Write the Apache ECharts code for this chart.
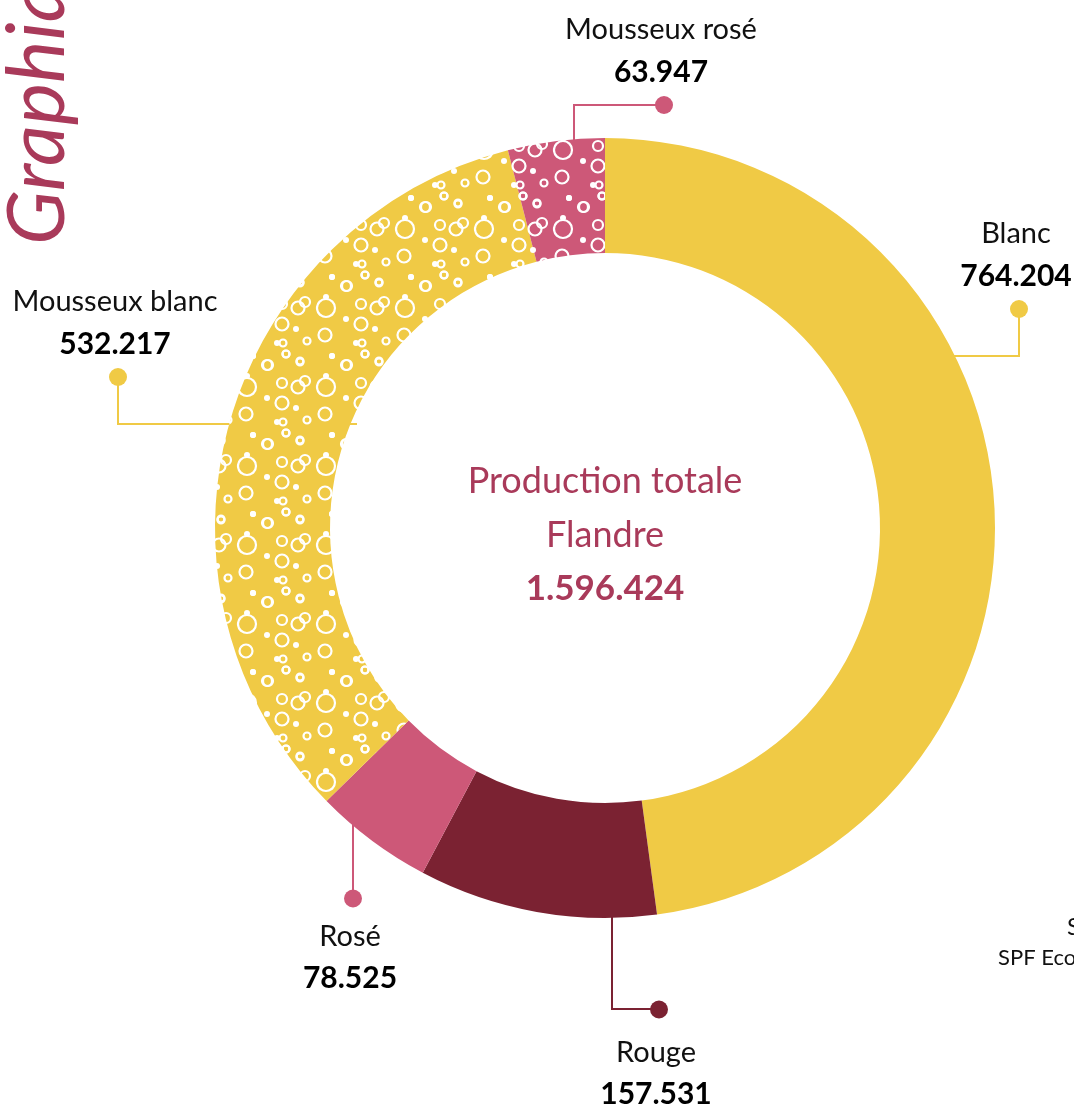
<!DOCTYPE html>
<html>
<head>
<meta charset="utf-8">
<script src="https://cdn.jsdelivr.net/npm/echarts@6/dist/echarts.min.js"></script>
<style>
html, body { margin: 0; padding: 0; background: #fff; }
#main { width: 1074px; height: 1105px; }
</style>
</head>
<body>
<div id="main"></div>
<script>
// données
var categories = ['Blanc', 'Rouge', 'Rosé', 'Mousseux blanc', 'Mousseux rosé'];
var values = [764204, 157531, 78525, 532217, 63947];
var centerLines = ['Production totale', 'Flandre'];
var titleText = 'Graphique';
var sourceLines = ['Source :', 'SPF Economie'];

// couleurs
var YELLOW = '#F0CA45', PINK = '#CD5878', WINE = '#7B2232', ACCENT = '#A93A5A';
var CX = 605, CY = 528;

// bulles du motif (tuile 79x79) : x, y, rayon, plein
var bubbleTile = [
  [0, 0, 9, 0], [0, -11, 3, 1], [20, -22, 5, 0], [39, -33, 3.5, 0], [53, -25, 3.5, 0],
  [6, -31, 3, 1], [35, -4, 5, 0], [51, 0, 6.5, 0], [58, -6, 5, 0], [20, 11, 3, 1],
  [35, 16, 6.5, 0], [49, 21, 3, 1], [-1, 27, 6.5, 0], [60, 33, 3.5, 0], [30, 35, 3, 1],
  [36, 35, 3.5, 0], [39, 46, 3.5, 0], [6, 48, 3, 1], [53, 53, 3.5, 0], [21, 57, 5, 0]
];

// traits de rappel (décalages par rapport au centre), gap = interligne de la pastille
var leaders = [
  { start: [249, -172], end: [414, -219], bend: 'h', above: true, gap: 24 },
  { start: [7, 352], end: [54, 481], bend: 'v', above: false, gap: 44 },
  { start: [-252, 277], end: [-252, 370], bend: 'v', above: false, gap: 34 },
  { start: [-248, -104], end: [-487, -151], bend: 'h', above: true, gap: 24 },
  { start: [-31, -328], end: [59, -423], bend: 'v', above: true, gap: 24 }
];

function fmt(n) {
  return String(n).replace(/\B(?=(\d{3})+(?!\d))/g, '.');
}

function bubbles(bg) {
  var T = 79, sx = 10, sy = 71;
  var c = document.createElement('canvas');
  c.width = T; c.height = T;
  var ctx = c.getContext('2d');
  ctx.fillStyle = bg;
  ctx.fillRect(0, 0, T, T);
  ctx.strokeStyle = '#fff';
  ctx.fillStyle = '#fff';
  ctx.lineWidth = 2.2;
  bubbleTile.forEach(function (b) {
    var bx = (((b[0] + sx) % T) + T) % T, by = (((b[1] + sy) % T) + T) % T;
    for (var ox = -T; ox <= T; ox += T) {
      for (var oy = -T; oy <= T; oy += T) {
        ctx.beginPath();
        ctx.arc(bx + ox, by + oy, b[2], 0, Math.PI * 2);
        if (b[3]) ctx.fill(); else ctx.stroke();
      }
    }
  });
  return c;
}

var fills = [YELLOW, WINE, PINK, { image: bubbles(YELLOW), repeat: 'repeat' }, { image: bubbles(PINK), repeat: 'repeat' }];
var lineColors = [YELLOW, WINE, PINK, YELLOW, PINK];

var total = values.reduce(function (a, b) { return a + b; }, 0);

var seriesData = categories.map(function (name, i) {
  return {
    name: name,
    value: values[i],
    itemStyle: { color: fills[i] },
    labelLine: { lineStyle: { color: lineColors[i], width: 2 } }
  };
});

var labelRich = {
  n: { fontFamily: 'Lato', fontSize: 29, color: '#111', lineHeight: 42, align: 'center', padding: [0, 6, 0, 0] },
  v: { fontFamily: 'Lato', fontSize: 30, fontWeight: 'bold', color: '#000', lineHeight: 42, align: 'center', padding: [0, 6, 0, 0] }
};
leaders.forEach(function (L, i) {
  labelRich['d' + i] = {
    width: 18, height: 18, borderRadius: 9, backgroundColor: lineColors[i],
    lineHeight: L.gap, align: 'center'
  };
});

var chart = echarts.init(document.getElementById('main'));

var option = {
  animation: false,
  graphic: [
    {
      type: 'text', x: 38, y: 245, rotation: Math.PI / 2,
      style: {
        text: titleText, fill: ACCENT, fontFamily: 'Lato', fontStyle: 'italic',
        fontWeight: 'normal', fontSize: 80, align: 'left', verticalAlign: 'middle'
      }
    },
    {
      type: 'text', x: CX, y: 535,
      style: {
        text: '{a|' + centerLines[0] + '}\n{a|' + centerLines[1] + '}\n{b|' + fmt(total) + '}',
        align: 'center', verticalAlign: 'middle',
        rich: {
          a: { fontFamily: 'Lato', fontSize: 36, fill: ACCENT, lineHeight: 54, align: 'center' },
          b: { fontFamily: 'Lato', fontSize: 35, fontWeight: 'bold', fill: ACCENT, lineHeight: 54, align: 'center' }
        }
      }
    },
    {
      type: 'text', x: 1067, y: 927,
      style: { text: sourceLines[0], fill: '#111', fontFamily: 'Lato', fontSize: 24, verticalAlign: 'middle' }
    },
    {
      type: 'text', x: 998, y: 958,
      style: { text: sourceLines[1], fill: '#111', fontFamily: 'Lato', fontSize: 22, verticalAlign: 'middle' }
    }
  ],
  series: [
    {
      type: 'pie',
      center: [CX, CY],
      radius: [275, 390],
      startAngle: 90,
      clockwise: true,
      avoidLabelOverlap: false,
      silent: true,
      itemStyle: { borderWidth: 0 },
      label: {
        show: true,
        position: 'outside',
        formatter: function (p) {
          var d = '{d' + p.dataIndex + '|}';
          var t = '{n|' + p.name + '}\n{v|' + fmt(p.value) + '}';
          return leaders[p.dataIndex].above ? t + '\n' + d : d + '\n' + t;
        },
        rich: labelRich
      },
      labelLine: { show: true, smooth: false },
      labelLayout: function (p) {
        var L = leaders[p.dataIndex];
        var s = [CX + L.start[0], CY + L.start[1]];
        var e = [CX + L.end[0], CY + L.end[1]];
        var m = L.bend === 'h' ? [e[0], s[1]] : [s[0], e[1]];
        return {
          x: e[0],
          y: L.above ? e[1] + L.gap / 2 : e[1] - L.gap / 2 + 0.5,
          align: 'center',
          verticalAlign: L.above ? 'bottom' : 'top',
          labelLinePoints: [s, m, e]
        };
      },
      data: seriesData
    }
  ]
};

chart.setOption(option);
</script>
</body>
</html>
